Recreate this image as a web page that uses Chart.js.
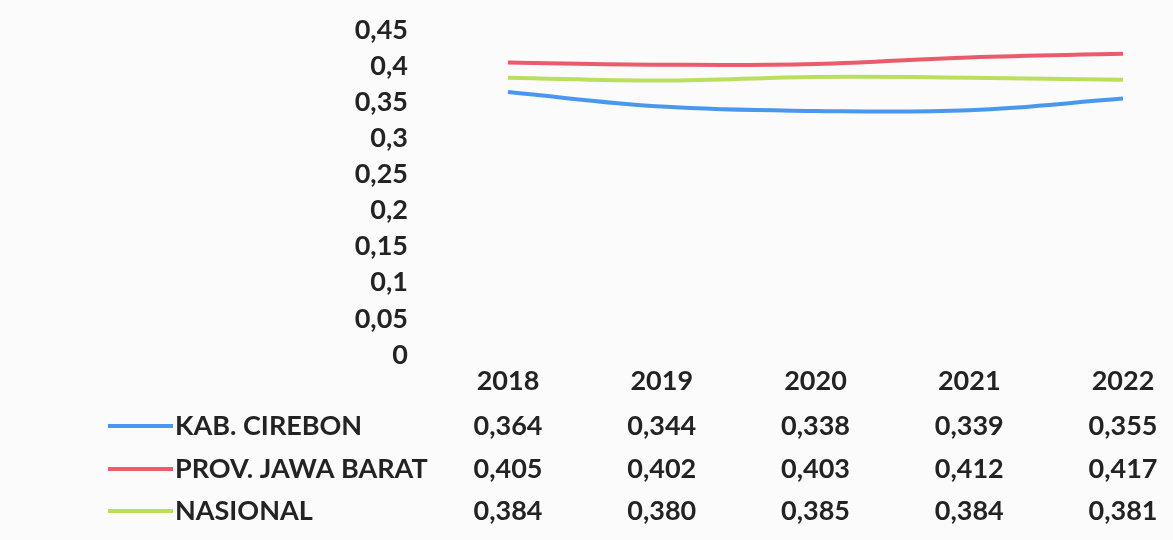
<!DOCTYPE html>
<html>
<head>
<meta charset="utf-8">
<script src="https://cdn.jsdelivr.net/npm/chart.js@4"></script>
<style>
  html, body { margin: 0; padding: 0; background: #fbfbfb; }
  #wrap { width: 1173px; height: 540px; }
</style>
</head>
<body>
<div id="wrap"><canvas id="chart" width="1173" height="540"></canvas></div>
<script>
const years = ["2018", "2019", "2020", "2021", "2022"];
const cirebon = [0.364, 0.344, 0.338, 0.339, 0.355];
const jabar = [0.405, 0.402, 0.403, 0.412, 0.417];
const nasional = [0.384, 0.380, 0.385, 0.384, 0.381];
const seriesNames = ["KAB. CIREBON", "PROV. JAWA BARAT", "NASIONAL"];
const seriesColors = ["#4a97ee", "#ec5b6c", "#b9df5c"];

const FONT = "Lato, 'Open Sans', sans-serif";
const TEXT = "#232323";
const SIZE = 27;

function comma(v, digits) {
  return (digits == null ? String(+v.toFixed(2)) : v.toFixed(digits)).replace(".", ",");
}

// draws the Excel-style data table under the x axis
const dataTable = {
  id: "dataTable",
  afterDraw(chart) {
    const ctx = chart.ctx;
    const x = chart.scales.x;
    const rowY = [426, 469, 511];
    ctx.save();
    ctx.font = "bold " + SIZE + "px " + FONT;
    ctx.fillStyle = TEXT;
    ctx.textBaseline = "middle";
    chart.data.datasets.forEach((ds, i) => {
      const y = rowY[i];
      ctx.strokeStyle = ds.borderColor;
      ctx.lineWidth = 4;
      ctx.beginPath();
      ctx.moveTo(108, y);
      ctx.lineTo(173, y);
      ctx.stroke();
      ctx.textAlign = "left";
      ctx.fillText(ds.label, 175, y);
      ctx.textAlign = "center";
      ds.data.forEach((v, j) => {
        ctx.fillText(comma(v, 3), x.getPixelForValue(j), y);
      });
    });
    ctx.restore();
  }
};

new Chart(document.getElementById("chart"), {
  type: "line",
  data: {
    labels: years,
    datasets: [cirebon, jabar, nasional].map((d, i) => ({
      label: seriesNames[i],
      data: d,
      borderColor: seriesColors[i],
      borderWidth: 4,
      pointRadius: 0,
      tension: 0.4,
      clip: false
    }))
  },
  options: {
    responsive: false,
    animation: false,
    layout: { padding: { top: 30, right: 50, bottom: 145, left: 0 } },
    plugins: { legend: { display: false }, tooltip: { enabled: false } },
    scales: {
      x: {
        offset: false,
        grid: { display: false, drawTicks: false },
        border: { display: false },
        ticks: { color: TEXT, font: { family: FONT, size: SIZE, weight: "bold" }, padding: 10, maxRotation: 0 },
        afterFit(s) { s.height = 40; }
      },
      y: {
        min: 0,
        max: 0.45,
        grid: { display: false, drawTicks: false },
        border: { display: false },
        ticks: {
          stepSize: 0.05,
          autoSkip: false,
          color: TEXT,
          font: { family: FONT, size: SIZE, weight: "bold" },
          padding: 100,
          callback: v => comma(v)
        },
        afterFit(s) {
          s.width = 508;
          s.paddingTop = 0;
          s.paddingBottom = 0;
        }
      }
    }
  },
  plugins: [dataTable]
});
</script>
</body>
</html>
